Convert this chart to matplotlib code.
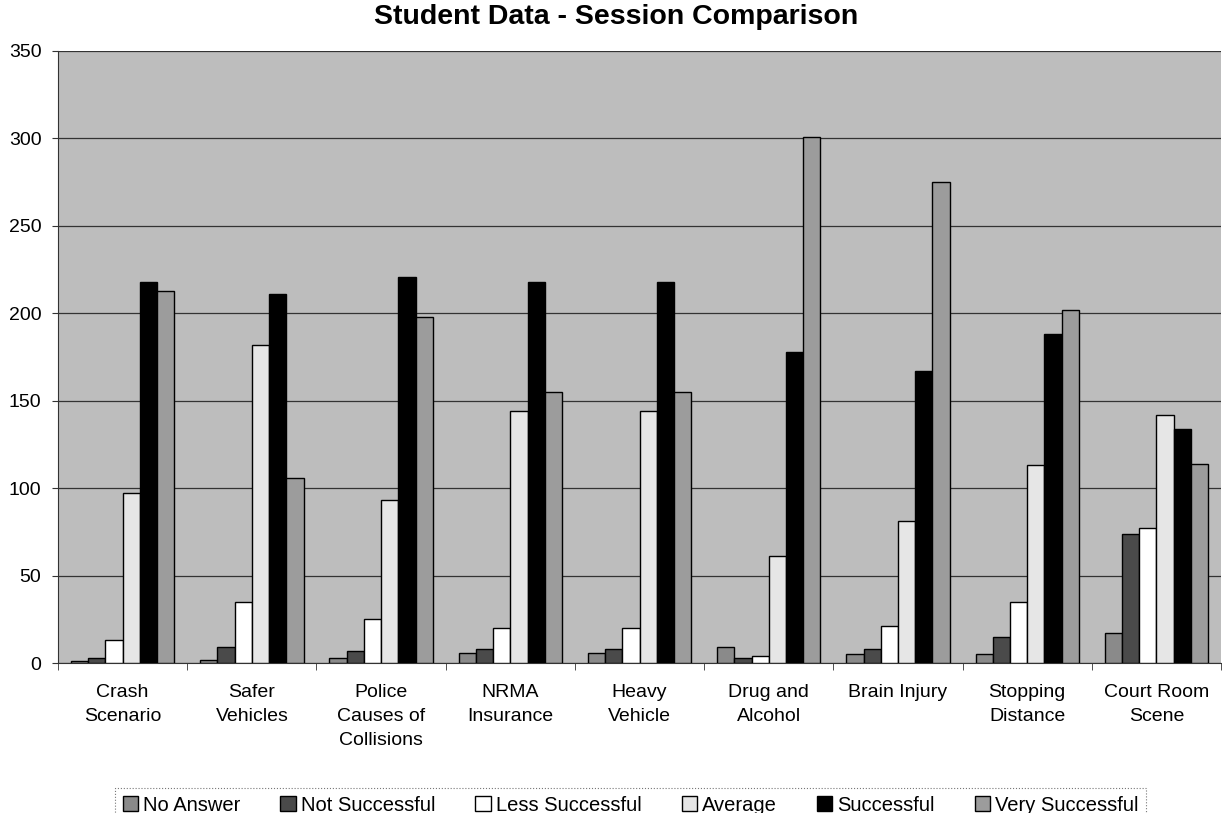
import numpy as np
import matplotlib.pyplot as plt

plt.rcParams['font.family'] = ['Liberation Sans', 'DejaVu Sans']

# Data
#--------------------------------------------------------------------
categories = ["Crash\nScenario", "Safer\nVehicles", "Police\nCauses of\nCollisions",
              "NRMA\nInsurance", "Heavy\nVehicle", "Drug and\nAlcohol",
              "Brain Injury", "Stopping\nDistance", "Court Room\nScene"]
series = ["No Answer", "Not Successful", "Less Successful", "Average",
          "Successful", "Very Successful"]

no_answer       = [1, 2, 3, 6, 6, 9, 5, 5, 17]
not_successful  = [3, 9, 7, 8, 8, 3, 8, 15, 74]
less_successful = [13, 35, 25, 20, 20, 4, 21, 35, 77]
average         = [97, 182, 93, 144, 144, 61, 81, 113, 142]
successful      = [218, 211, 221, 218, 218, 178, 167, 188, 134]
very_successful = [213, 106, 198, 155, 155, 301, 275, 202, 114]

values = [no_answer, not_successful, less_successful, average, successful, very_successful]
colors = ["#8a8a8a", "#4a4a4a", "#ffffff", "#e6e6e6", "#000000", "#9c9c9c"]

# Plot
#--------------------------------------------------------------------
fig = plt.figure(figsize=(12.22, 8.13), dpi=100)
ax = fig.add_axes([0.0475, 0.1845, 0.9517, 0.7528])
ax.set_facecolor("#bdbdbd")

x = np.arange(len(categories))
w = 0.8 / 6
for i, (name, vals) in enumerate(zip(series, values)):
    ax.bar(x + (i - 2.5) * w, vals, width=w, color=colors[i], edgecolor="black",
           linewidth=1.0, label=name, zorder=3)

ax.set_xlim(-0.5, len(categories) - 0.5)
ax.set_ylim(0, 350)
ax.set_yticks(np.arange(0, 351, 50))
ax.yaxis.grid(True, color="#333333", linewidth=0.9, zorder=0)
ax.set_axisbelow(True)

ax.set_xticks(x)
ax.set_xticklabels(categories, fontsize=14, linespacing=1.55)
ax.set_xticks(np.arange(-0.5, len(categories), 1), minor=True)
ax.tick_params(axis="x", which="major", length=0, pad=15)
ax.tick_params(axis="x", which="minor", length=5, color="#333333")
ax.tick_params(axis="y", labelsize=14, length=4, color="#333333", pad=8)

for s in ["top", "right"]:
    ax.spines[s].set_visible(False)
ax.spines["left"].set_color("#333333")
ax.spines["bottom"].set_color("#333333")

fig.text(0.504, 0.979, "Student Data - Session Comparison", fontsize=20.5,
         fontweight="bold", ha="center", va="center")

leg = fig.legend(loc="upper center", bbox_to_anchor=(0.516, 0.031), ncol=6, frameon=True,
                 fancybox=False, edgecolor="#555555", fontsize=14.5,
                 handlelength=0.75, handleheight=0.75, handletextpad=0.25,
                 columnspacing=2.0, borderpad=0.4, borderaxespad=0)
leg.get_frame().set_linewidth(0.8)
leg.get_frame().set_linestyle(":")

fig.savefig("out.png", dpi=100)
